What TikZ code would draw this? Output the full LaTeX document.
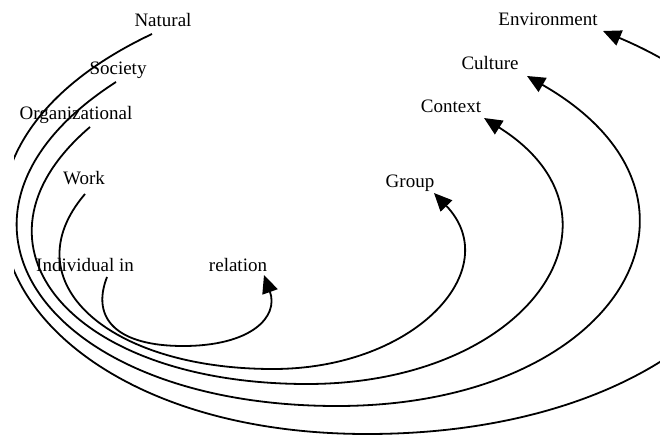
\documentclass[tikz,border=0pt]{standalone}
\usepackage{fontspec}
\setmainfont{Liberation Serif}
\usetikzlibrary{arrows.meta}

\begin{document}
\begin{tikzpicture}[x=1pt,y=-1pt]

          \tikzstyle{ringText} = [inner sep=0pt,anchor=base,font=\fontsize{19}{23}\selectfont];
          \tikzstyle{ringArrow} = [line width=1.8pt,-{Triangle[length=18pt,width=16pt]}];

          \useasboundingbox (0,0) rectangle (660,435);
          \clip (14,0) rectangle (660,435);

          \node[ringText] (nat) at (163,27) {Natural};
          \node[ringText] (soc) at (118,75) {Society};
          \node[ringText] (org) at (76,120) {Organizational};
          \node[ringText] (work) at (84,185) {Work};
          \node[ringText] (ind) at (85,271) {Individual in};
          \node[ringText] (rel) at (238,271) {relation};
          \node[ringText] (group) at (410,188) {Group};
          \node[ringText] (context) at (451,113) {Context};
          \node[ringText] (culture) at (490,70) {Culture};
          \node[ringText] (env) at (548,26) {Environment};

          \coordinate (bot1) at (183,346);
          \coordinate (bot2) at (273,369);
          \coordinate (bot3) at (307,384);
          \coordinate (bot4) at (337,406);
          \coordinate (bot5) at (367,434);

          \draw[ringArrow] ([shift={(22,6)}]ind.base) .. controls +(-16.5,42.5) and +(-65,0) .. (bot1)
            .. controls +(68,0) and +(15,42) .. ([shift={(26,4)}]rel.base);
          \draw[ringArrow] ([shift={(1,9)}]work.base) .. controls +(-74.5,87) and +(-166,0) .. (bot2)
            .. controls +(143,0) and +(72.5,75.6) .. ([shift={(24,5)}]group.base);
          \draw[ringArrow] ([shift={(14,7)}]org.base) .. controls +(-138,118) and +(-234,0) .. (bot3)
            .. controls +(224,0) and +(157.5,99) .. ([shift={(33,5)}]context.base);
          \draw[ringArrow] ([shift={(-2,7)}]soc.base) .. controls +(-205.5,132) and +(-294,0) .. (bot4)
            .. controls +(283,0) and +(213,122) .. ([shift={(37,6)}]culture.base);
          \draw[ringArrow] ([shift={(-11,7)}]nat.base) .. controls +(-282,133) and +(-356,0) .. (bot5)
            .. controls +(380,0) and +(305,129) .. ([shift={(55,5)}]env.base);
        \end{tikzpicture}
\end{document}
